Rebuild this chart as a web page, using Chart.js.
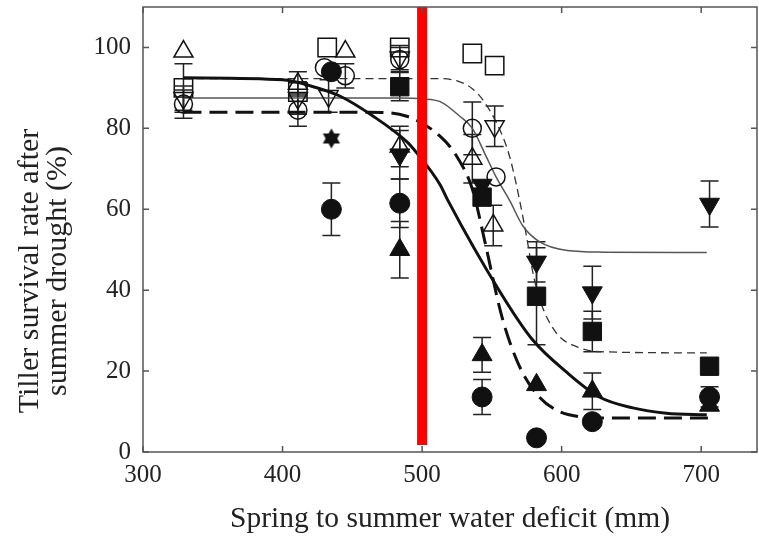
<!DOCTYPE html>
<html>
<head>
<meta charset="utf-8">
<script src="https://cdn.jsdelivr.net/npm/chart.js@4.4.1/dist/chart.umd.min.js"></script>
<style>
  html,body{margin:0;padding:0;background:#fff;}
  #wrap{width:759px;height:538px;position:relative;}
</style>
</head>
<body>
<div id="wrap"><canvas id="c" width="759" height="538"></canvas></div>
<script>
// ---------- data ----------
const xTicks = [300, 400, 500, 600, 700];
const yTicks = [0, 20, 40, 60, 80, 100];
const xTitle = "Spring to summer water deficit (mm)";
const yTitle = ["Tiller survival rate after", "summer drought (%)"];

// filled symbols
const fCircleX = [435, 435, 484, 543, 582, 622, 706];
const fCircleY = [94, 60, 61.5, 13.6, 3.5, 7.5, 13.6];
const fCircleE = [0, 6.5, 6, 4.3, 0, 0, 2.5];

const fSquareX = [484, 543, 582, 622, 706];
const fSquareY = [90.3, 63, 38.5, 29.8, 21.2];
const fSquareE = [3.5, 0, 12, 5, 0];

const fTriUpX = [484, 543, 582, 622, 706];
const fTriUpY = [50, 24, 16.6, 15, 11.5];
const fTriUpE = [7, 4.3, 0, 4.5, 0];

const fTriDownX = [484, 543, 582, 622, 706];
const fTriDownY = [73.5, 66, 47, 39.4, 61.3];
const fTriDownE = [6, 0, 5, 6.5, 5.7];

const starX = [435];
const starY = [77.5];

// open symbols
const oSquareX = [329, 411, 432, 484, 536, 552];
const oSquareY = [90, 89, 100, 100, 98.5, 95.5];
const oSquareE = [6, 0, 0, 0, 0, 0];

const oTriUpX = [329, 411, 445, 484, 536, 551];
const oTriUpY = [99, 91, 99, 75.5, 72.5, 56];
const oTriUpE = [0, 3, 0, 5, 6, 5];

const oCircleX = [329, 411, 430, 445, 484, 536, 553];
const oCircleY = [86, 84.5, 95, 93, 97, 80, 68];
const oCircleE = [3.5, 4, 0, 3, 3, 6.5, 0];

const oTriDownX = [329, 411, 433, 484, 552];
const oTriDownY = [87.5, 87.5, 88, 97.5, 80.5];
const oTriDownE = [3, 4, 4, 3, 5];

// fitted curves
const thickSolidX = [329, 400, 420, 441, 465, 489, 496, 513, 518, 556, 579, 604, 627, 651, 675, 704];
const thickSolidY = [92.5, 92, 90.5, 88, 83, 76.7, 74, 66, 62.5, 39.5, 27.8, 19.6, 13.6, 10.9, 9.6, 9.2];

const thickDashX = [329, 462, 489, 513, 525, 536, 545, 556, 563, 572, 584, 596, 613, 627, 706];
const thickDashY = [84, 84, 83, 78, 73, 65, 52, 35, 27, 19.6, 13.6, 10.4, 8.7, 8.4, 8.4];

const thinSolidX = [329, 484, 500, 513, 527, 536, 546, 553, 563, 572, 584, 604, 630, 704];
const thinSolidY = [87.5, 87.5, 87.3, 86.6, 83, 80, 73, 68, 62, 56, 52, 49.8, 49.4, 49.3];

const thinDashX = [329, 513, 527, 536, 543, 553, 561, 565, 570, 575, 579, 584, 596, 611, 627, 704];
const thinDashY = [92.3, 92.3, 91.5, 89.8, 87.3, 81.6, 75, 70, 62, 53, 45, 38, 29.5, 26, 24.8, 24.5];

// red threshold line
const redX = [500, 500];
const redY = [110, 1.7];

// ---------- helpers ----------
const pts = (xs, ys) => xs.map((x, i) => ({ x, y: ys[i] }));
const FONT = "'Liberation Serif','DejaVu Serif',serif";
const INK = "#111";

function hexagram(size){
  const cv = document.createElement("canvas");
  cv.width = size; cv.height = size;
  const g = cv.getContext("2d");
  const c = size/2, r = size/2 - 1;
  g.fillStyle = INK;
  [-Math.PI/2, Math.PI/2].forEach(a0 => {
    g.beginPath();
    for(let k=0;k<3;k++){
      const a = a0 + k*2*Math.PI/3;
      const px = c + r*Math.cos(a), py = c + r*Math.sin(a);
      k ? g.lineTo(px,py) : g.moveTo(px,py);
    }
    g.closePath(); g.fill();
  });
  return cv;
}

const marker = (label, xs, ys, errs, style, filled, radius, rotation) => ({
  label, data: pts(xs, ys), errors: errs || null,
  pointStyle: style, pointRadius: radius, pointHoverRadius: radius,
  pointRotation: rotation || 0,
  pointBackgroundColor: filled ? INK : "rgba(0,0,0,0)",
  pointBorderColor: INK, pointBorderWidth: filled ? 1 : 1.5,
  showLine: false, order: 2
});

const curve = (label, xs, ys, width, dash, color) => ({
  label, data: pts(xs, ys), showLine: true, pointRadius: 0,
  borderColor: color || INK, borderWidth: width, borderDash: dash || [],
  cubicInterpolationMode: "monotone", fill: false, order: 3
});

// ---------- plugins ----------
const errorBars = {
  id: "errorBars",
  beforeDatasetsDraw(chart){
    const { ctx, scales: { y } } = chart;
    ctx.save();
    ctx.strokeStyle = "#222"; ctx.lineWidth = 1.5;
    chart.data.datasets.forEach((ds, di) => {
      if(!ds.errors) return;
      const meta = chart.getDatasetMeta(di);
      ds.data.forEach((p, i) => {
        const e = ds.errors[i];
        if(!e) return;
        const px = meta.data[i].x;
        const top = y.getPixelForValue(p.y + e), bot = y.getPixelForValue(p.y - e);
        ctx.beginPath();
        ctx.moveTo(px, top); ctx.lineTo(px, bot);
        ctx.moveTo(px - 9, top); ctx.lineTo(px + 9, top);
        ctx.moveTo(px - 9, bot); ctx.lineTo(px + 9, bot);
        ctx.stroke();
      });
    });
    ctx.restore();
  }
};

const frame = {
  id: "frame",
  afterDraw(chart){
    const { ctx, chartArea: a, scales: { x, y } } = chart;
    ctx.save();
    ctx.strokeStyle = "#555"; ctx.lineWidth = 1.5;
    ctx.strokeRect(a.left, a.top, a.right - a.left, a.bottom - a.top);
    ctx.beginPath();
    xTicks.forEach(v => {
      const px = x.getPixelForValue(v);
      ctx.moveTo(px, a.bottom); ctx.lineTo(px, a.bottom - 6);
      ctx.moveTo(px, a.top); ctx.lineTo(px, a.top + 6);
    });
    yTicks.forEach(v => {
      const py = y.getPixelForValue(v);
      ctx.moveTo(a.left, py); ctx.lineTo(a.left + 6, py);
      ctx.moveTo(a.right, py); ctx.lineTo(a.right - 6, py);
    });
    ctx.stroke();
    // y-axis title, two lines
    ctx.fillStyle = "#222";
    ctx.font = "30px " + FONT;
    ctx.textAlign = "center"; ctx.textBaseline = "middle";
    ctx.translate(0, 271);
    ctx.rotate(-Math.PI/2);
    ctx.fillText(yTitle[0], 0, 30);
    ctx.fillText(yTitle[1], 0, 58);
    ctx.restore();
  }
};

// ---------- chart ----------
Chart.defaults.font.family = FONT;
Chart.defaults.color = "#222";

new Chart(document.getElementById("c"), {
  type: "scatter",
  data: {
    datasets: [
      { label: "threshold", data: pts(redX, redY), showLine: true, pointRadius: 0,
        borderColor: "#ff0000", borderWidth: 10, order: 0 },
      marker("fCircle", fCircleX, fCircleY, fCircleE, "circle", true, 10),
      marker("fSquare", fSquareX, fSquareY, fSquareE, "rect", true, 13),
      marker("fTriUp", fTriUpX, fTriUpY, fTriUpE, "triangle", true, 11.5),
      marker("fTriDown", fTriDownX, fTriDownY, fTriDownE, "triangle", true, 11.5, 180),
      marker("star", starX, starY, null, hexagram(22), true, 11),
      marker("oSquare", oSquareX, oSquareY, oSquareE, "rect", false, 13),
      marker("oTriUp", oTriUpX, oTriUpY, oTriUpE, "triangle", false, 11),
      marker("oCircle", oCircleX, oCircleY, oCircleE, "circle", false, 9),
      marker("oTriDown", oTriDownX, oTriDownY, oTriDownE, "triangle", false, 11, 180),
      curve("thickSolid", thickSolidX, thickSolidY, 3),
      curve("thickDash", thickDashX, thickDashY, 3, [18, 8]),
      curve("thinSolid", thinSolidX, thinSolidY, 1.5, null, "#555"),
      curve("thinDash", thinDashX, thinDashY, 1.3, [8, 5], "#333")
    ]
  },
  options: {
    responsive: false, animation: false,
    layout: { autoPadding: false, padding: { top: 7, right: 2, left: 0, bottom: 0 } },
    plugins: { legend: { display: false }, tooltip: { enabled: false } },
    scales: {
      x: {
        min: 300, max: 740,
        afterBuildTicks: s => { s.ticks = xTicks.map(v => ({ value: v })); },
        afterFit: s => { s.height = 86; s.paddingLeft = 0; s.paddingRight = 0; },
        grid: { display: false, drawTicks: false }, border: { display: false },
        ticks: { padding: 8, font: { size: 25 }, color: "#222" },
        title: { display: true, text: xTitle, font: { size: 29.5, lineHeight: 1 }, padding: { bottom: 4, top: 0 }, color: "#222" }
      },
      y: {
        min: 0, max: 110,
        afterBuildTicks: s => { s.ticks = yTicks.map(v => ({ value: v })); },
        afterFit: s => { s.width = 143; s.paddingTop = 0; s.paddingBottom = 0; },
        grid: { display: false, drawTicks: false }, border: { display: false },
        ticks: { padding: 12, font: { size: 25 }, color: "#222" }
      }
    }
  },
  plugins: [errorBars, frame]
});
</script>
</body>
</html>
